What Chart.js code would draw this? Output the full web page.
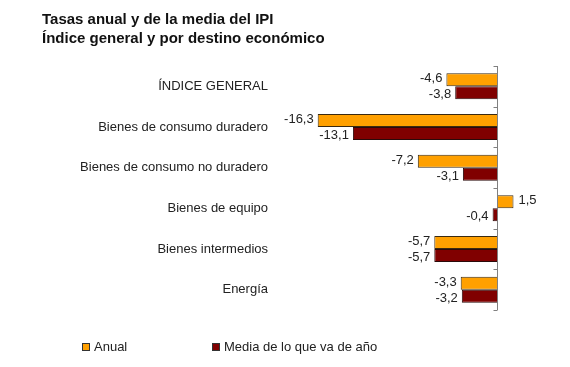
<!DOCTYPE html>
<html>
<head>
<meta charset="utf-8">
<script src="https://cdn.jsdelivr.net/npm/chart.js@4"></script>
<style>
  body { margin: 0; background: #fff; font-family: "Liberation Sans", Arial, sans-serif; }
  #wrap { position: relative; width: 570px; height: 367px; }
  #title { position: absolute; left: 42px; top: 9px; font-size: 15px; font-weight: bold; line-height: 19px; color: #111; }
  #legend { position: absolute; top: 339px; left: 0; font-size: 13px; color: #222; }
  .item { position: absolute; white-space: nowrap; display: flex; align-items: center; }
  .box { width: 6px; height: 6px; border: 1px solid #333; margin-right: 4px; }
</style>
</head>
<body>
<div id="wrap">
  <canvas id="ipiChart" width="570" height="367"></canvas>
  <div id="title">Tasas anual y de la media del IPI<br>Índice general y por destino económico</div>
  <div id="legend"></div>
</div>
<script>
const categories = ['ÍNDICE GENERAL', 'Bienes de consumo duradero', 'Bienes de consumo no duradero',
  'Bienes de equipo', 'Bienes intermedios', 'Energía'];
const anual = [-4.6, -16.3, -7.2, 1.5, -5.7, -3.3];
const mediaAno = [-3.8, -13.1, -3.1, -0.4, -5.7, -3.2];
const seriesNames = ['Anual', 'Media de lo que va de año'];
const seriesColors = ['#FFA000', '#800000'];
const legendX = [82, 212];

// zero axis, small tick marks and value labels
const axisAndLabels = {
  id: 'axisAndLabels',
  afterDatasetsDraw(chart) {
    const ctx = chart.ctx;
    const xs = chart.scales.x;
    const ys = chart.scales.y;
    const x0 = Math.round(xs.getPixelForValue(0)) + 0.5;

    ctx.save();
    ctx.strokeStyle = '#808080';
    ctx.lineWidth = 1;
    ctx.beginPath();
    ctx.moveTo(x0, chart.chartArea.top);
    ctx.lineTo(x0, chart.chartArea.bottom);
    for (let i = 0; i <= categories.length; i++) {
      const y = Math.round(ys.getPixelForValue(i - 0.5)) + 0.5;
      ctx.moveTo(x0 - 4, y);
      ctx.lineTo(x0, y);
    }
    ctx.stroke();

    ctx.font = '13px "Liberation Sans", Arial, sans-serif';
    ctx.fillStyle = '#222';
    ctx.textBaseline = 'middle';
    chart.data.datasets.forEach((ds, di) => {
      chart.getDatasetMeta(di).data.forEach((bar, i) => {
        const v = ds.data[i];
        const txt = v.toFixed(1).replace('.', ',');
        const y = bar.y + (di === 0 ? -1 : 2);
        if (v < 0) {
          ctx.textAlign = 'right';
          ctx.fillText(txt, bar.x - 4, y);
        } else {
          ctx.textAlign = 'left';
          ctx.fillText(txt, bar.x + 5, y);
        }
      });
    });
    ctx.restore();
  }
};

const chart = new Chart(document.getElementById('ipiChart'), {
  type: 'bar',
  data: {
    labels: categories,
    datasets: [
      {
        label: seriesNames[0],
        data: anual,
        backgroundColor: seriesColors[0],
        borderColor: '#3a2a10',
        borderWidth: 1,
        categoryPercentage: 0.64,
        barPercentage: 1
      },
      {
        label: seriesNames[1],
        data: mediaAno,
        backgroundColor: seriesColors[1],
        borderColor: '#2a0a0a',
        borderWidth: 1,
        categoryPercentage: 0.64,
        barPercentage: 1
      }
    ]
  },
  options: {
    indexAxis: 'y',
    responsive: false,
    animation: false,
    layout: {
      padding: { top: 66, bottom: 57, right: 29, left: 0 }
    },
    plugins: {
      legend: { display: false },
      tooltip: { enabled: false }
    },
    scales: {
      x: {
        display: false,
        min: -20,
        max: 4
      },
      y: {
        afterFit: (scale) => { scale.width = 277; },
        grid: { display: false, drawTicks: false },
        border: { display: false },
        ticks: {
          padding: 9,
          color: '#222',
          font: { family: '"Liberation Sans", Arial, sans-serif', size: 13 }
        }
      }
    }
  },
  plugins: [axisAndLabels]
});

// legend
const legend = document.getElementById('legend');
seriesNames.forEach((name, i) => {
  const item = document.createElement('div');
  item.className = 'item';
  item.style.left = legendX[i] + 'px';
  item.innerHTML = '<span class="box" style="background:' + seriesColors[i] + '"></span>' + name;
  legend.appendChild(item);
});
</script>
</body>
</html>
